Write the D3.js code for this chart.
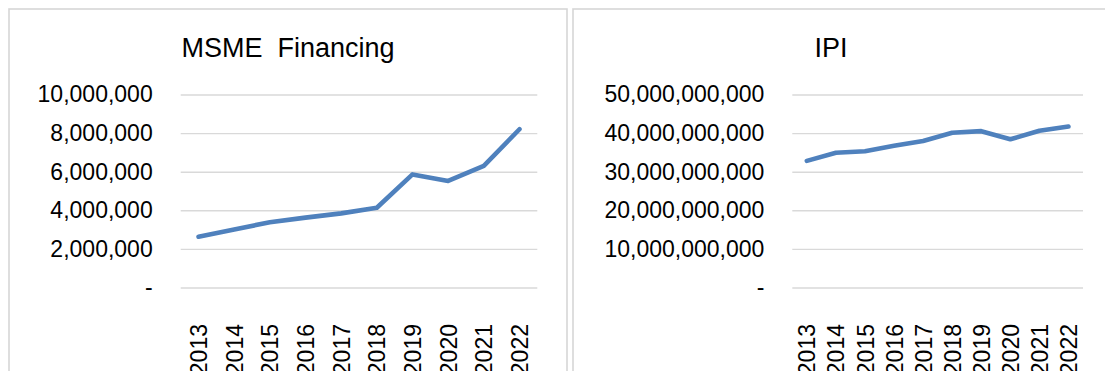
<!DOCTYPE html>
<html>
<head>
<meta charset="utf-8">
<script src="https://cdn.jsdelivr.net/npm/d3@7"></script>
<style>
  html, body { margin: 0; padding: 0; background: #fff; }
  svg { display: block; font-family: "Liberation Sans", Arial, sans-serif; }
</style>
</head>
<body>
<svg id="chart" width="1105" height="371"></svg>
<script>
// Years shared by both panels
const years = ["2013", "2014", "2015", "2016", "2017", "2018", "2019", "2020", "2021", "2022"];

// MSME financing (left panel)
const msmeValues = [2630000, 3010000, 3380000, 3620000, 3840000, 4130000, 5860000, 5520000, 6300000, 8200000];
const msmeTicks = [0, 2000000, 4000000, 6000000, 8000000, 10000000];

// Industrial production index (right panel)
const ipiValues = [32800000000, 34900000000, 35300000000, 36700000000, 37950000000, 40100000000, 40500000000, 38400000000, 40600000000, 41700000000];
const ipiTicks = [0, 10000000000, 20000000000, 30000000000, 40000000000, 50000000000];

const titles = ["MSME  Financing", "IPI"];

const svg = d3.select("#chart");
const lineColor = "#4f81bd";
const gridColor = "#d9d9d9";
const borderColor = "#d6d6d6";

const fmt = d3.format(",");
const tickFormat = v => v === 0 ? "-" : fmt(v);

function panel(cfg) {
  const g = svg.append("g");

  // panel frame
  g.append("rect")
    .attr("x", cfg.frame[0]).attr("y", cfg.frame[1])
    .attr("width", cfg.frame[2]).attr("height", cfg.frame[3])
    .attr("fill", "#fff")
    .attr("stroke", borderColor)
    .attr("stroke-width", 1.6);

  const x = d3.scalePoint().domain(years).range([cfg.left, cfg.right]).padding(0.5);
  const y = d3.scaleLinear().domain([0, d3.max(cfg.ticks)]).range([cfg.bottom, cfg.top]);

  // value axis with horizontal gridlines
  const yAxis = d3.axisLeft(y)
    .tickValues(cfg.ticks)
    .tickFormat(tickFormat)
    .tickSizeInner(-(cfg.right - cfg.left))
    .tickSizeOuter(0)
    .tickPadding(28);

  const ya = g.append("g").attr("transform", `translate(${cfg.left},0)`).call(yAxis);
  ya.select(".domain").remove();
  ya.selectAll(".tick line").attr("stroke", gridColor).attr("stroke-width", 1.4);
  ya.selectAll(".tick text")
    .attr("fill", "#000")
    .attr("font-size", 23)
    .attr("font-family", "Liberation Sans, Arial, sans-serif");

  // category labels, rotated
  const xa = g.append("g")
    .attr("transform", `translate(0,${cfg.labelTop})`)
    .call(d3.axisBottom(x).tickSize(0).tickPadding(0));
  xa.select(".domain").remove();
  xa.selectAll(".tick text")
    .attr("fill", "#000")
    .attr("font-size", 23)
    .attr("font-family", "Liberation Sans, Arial, sans-serif")
    .attr("text-anchor", "end")
    .attr("transform", "rotate(-90)")
    .attr("x", 0)
    .attr("y", 0)
    .attr("dy", "0.35em");

  // data line
  const line = d3.line()
    .x((d, i) => x(years[i]))
    .y(d => y(d));

  g.append("path")
    .datum(cfg.values)
    .attr("d", line)
    .attr("fill", "none")
    .attr("stroke", lineColor)
    .attr("stroke-width", 4.6)
    .attr("stroke-linejoin", "round")
    .attr("stroke-linecap", "round");

  // title
  g.append("text")
    .attr("x", cfg.titleX)
    .attr("y", 57)
    .attr("text-anchor", "middle")
    .attr("font-size", 27)
    .attr("fill", "#000")
    .style("white-space", "pre")
    .attr("xml:space", "preserve")
    .text(cfg.title);
}

panel({
  frame: [9, 9, 558, 380],
  left: 180.7, right: 537.3, top: 94.5, bottom: 287.5,
  labelTop: 324,
  ticks: msmeTicks, values: msmeValues,
  title: titles[0], titleX: 288
});

panel({
  frame: [573, 9, 560, 380],
  left: 792.3, right: 1083, top: 94.5, bottom: 287.5,
  labelTop: 324,
  ticks: ipiTicks, values: ipiValues,
  title: titles[1], titleX: 831
});
</script>
</body>
</html>
